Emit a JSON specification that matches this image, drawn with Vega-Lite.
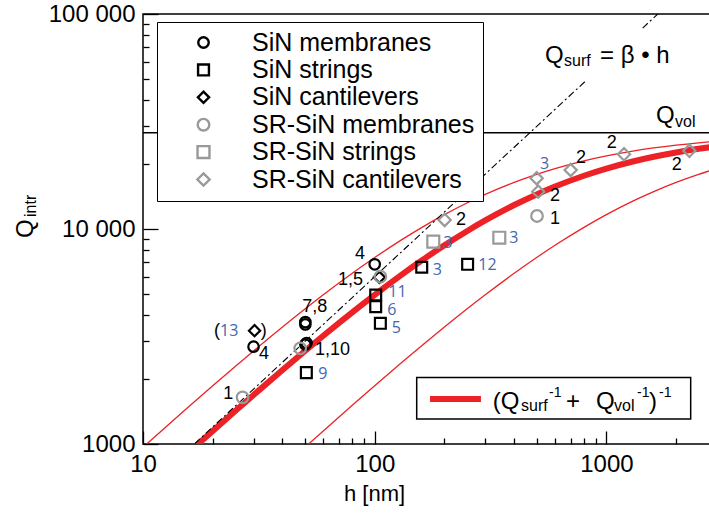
{
  "$schema": "https://vega.github.io/schema/vega-lite/v6.json",
  "width": 567,
  "height": 430,
  "autosize": {"type": "none"},
  "padding": {"left": 143, "top": 14, "right": 0, "bottom": 72},
  "background": "white",
  "config": {
    "view": {"stroke": "black", "strokeWidth": 1.5},
    "font": "Liberation Sans",
    "axis": {"grid": false, "domain": false, "tickColor": "black", "tickWidth": 1.3, "labelFont": "Liberation Sans", "labelFontSize": 24, "labelColor": "black", "titleFont": "Liberation Sans", "titleFontSize": 22, "titleFontWeight": "normal", "titleColor": "black"}
  },
  "datasets": {
    "curves": [
      {"h": 15, "Q": 872, "curve": "fit"}, {"h": 17, "Q": 984.1, "curve": "fit"}, {"h": 20, "Q": 1150.7, "curve": "fit"}, {"h": 25, "Q": 1423.7, "curve": "fit"}, {"h": 30, "Q": 1691.3, "curve": "fit"}, {"h": 40, "Q": 2210.5, "curve": "fit"}, {"h": 50, "Q": 2709.7, "curve": "fit"}, {"h": 60, "Q": 3189.9, "curve": "fit"}, {"h": 80, "Q": 4097.6, "curve": "fit"}, {"h": 100, "Q": 4941.2, "curve": "fit"}, {"h": 130, "Q": 6100.6, "curve": "fit"}, {"h": 160, "Q": 7148.9, "curve": "fit"}, {"h": 200, "Q": 8400, "curve": "fit"}, {"h": 250, "Q": 9767.4, "curve": "fit"}, {"h": 300, "Q": 10956.5, "curve": "fit"}, {"h": 400, "Q": 12923.1, "curve": "fit"}, {"h": 500, "Q": 14482.8, "curve": "fit"}, {"h": 600, "Q": 15750, "curve": "fit"}, {"h": 800, "Q": 17684.2, "curve": "fit"}, {"h": 1000, "Q": 19090.9, "curve": "fit"}, {"h": 1300, "Q": 20603.8, "curve": "fit"}, {"h": 1600, "Q": 21677.4, "curve": "fit"}, {"h": 2000, "Q": 22702.7, "curve": "fit"}, {"h": 2500, "Q": 23595.5, "curve": "fit"}, {"h": 2800, "Q": 24000, "curve": "fit"},
      {"h": 10, "Q": 965.5, "curve": "upper"}, {"h": 12, "Q": 1150.7, "curve": "upper"}, {"h": 15, "Q": 1423.7, "curve": "upper"}, {"h": 20, "Q": 1866.7, "curve": "upper"}, {"h": 25, "Q": 2295.1, "curve": "upper"}, {"h": 30, "Q": 2709.7, "curve": "upper"}, {"h": 40, "Q": 3500, "curve": "upper"}, {"h": 50, "Q": 4242.4, "curve": "upper"}, {"h": 60, "Q": 4941.2, "curve": "upper"}, {"h": 80, "Q": 6222.2, "curve": "upper"}, {"h": 100, "Q": 7368.4, "curve": "upper"}, {"h": 130, "Q": 8878, "curve": "upper"}, {"h": 160, "Q": 10181.8, "curve": "upper"}, {"h": 200, "Q": 11666.7, "curve": "upper"}, {"h": 250, "Q": 13207.5, "curve": "upper"}, {"h": 300, "Q": 14482.8, "curve": "upper"}, {"h": 400, "Q": 16470.6, "curve": "upper"}, {"h": 500, "Q": 17948.7, "curve": "upper"}, {"h": 600, "Q": 19090.9, "curve": "upper"}, {"h": 800, "Q": 20740.7, "curve": "upper"}, {"h": 1000, "Q": 21875, "curve": "upper"}, {"h": 1300, "Q": 23038, "curve": "upper"}, {"h": 1600, "Q": 23829.8, "curve": "upper"}, {"h": 2000, "Q": 24561.4, "curve": "upper"}, {"h": 2500, "Q": 25179.9, "curve": "upper"}, {"h": 2800, "Q": 25454.5, "curve": "upper"},
      {"h": 50, "Q": 965.5, "curve": "lower"}, {"h": 60, "Q": 1150.7, "curve": "lower"}, {"h": 80, "Q": 1513.5, "curve": "lower"}, {"h": 100, "Q": 1866.7, "curve": "lower"}, {"h": 130, "Q": 2379.1, "curve": "lower"}, {"h": 160, "Q": 2871.8, "curve": "lower"}, {"h": 200, "Q": 3500, "curve": "lower"}, {"h": 250, "Q": 4242.4, "curve": "lower"}, {"h": 300, "Q": 4941.2, "curve": "lower"}, {"h": 400, "Q": 6222.2, "curve": "lower"}, {"h": 500, "Q": 7368.4, "curve": "lower"}, {"h": 600, "Q": 8400, "curve": "lower"}, {"h": 800, "Q": 10181.8, "curve": "lower"}, {"h": 1000, "Q": 11666.7, "curve": "lower"}, {"h": 1300, "Q": 13481.5, "curve": "lower"}, {"h": 1600, "Q": 14933.3, "curve": "lower"}, {"h": 2000, "Q": 16470.6, "curve": "lower"}, {"h": 2500, "Q": 17948.7, "curve": "lower"}, {"h": 2800, "Q": 18666.7, "curve": "lower"}
    ],
    "surf": [{"h": 15, "Q": 900, "seg": "a"}, {"h": 822, "Q": 49320, "seg": "a"}, {"h": 1434, "Q": 86040, "seg": "b"}, {"h": 2000, "Q": 120000, "seg": "b"}],
    "qvol": [{"Q": 28000}],
    "fitbox": [{"h": 151.8, "h2": 2311, "Q": 2038, "Q2": 1307}],
    "fitsample": [{"h": 173.3, "h2": 287.5, "Q": 1619.5}],
    "points": [
      {"h": 30, "Q": 2836, "series": "SiN membranes"},
      {"h": 50.2, "Q": 3600, "series": "SiN membranes"},
      {"h": 50.2, "Q": 3690, "series": "SiN membranes"},
      {"h": 50.2, "Q": 2900, "series": "SiN membranes"},
      {"h": 50.8, "Q": 2950, "series": "SiN membranes"},
      {"h": 100, "Q": 6852, "series": "SiN membranes"},
      {"h": 50.7, "Q": 2148, "series": "SiN strings"},
      {"h": 101, "Q": 4931, "series": "SiN strings"},
      {"h": 101, "Q": 4351, "series": "SiN strings"},
      {"h": 105.8, "Q": 3642, "series": "SiN strings"},
      {"h": 159.6, "Q": 6640, "series": "SiN strings"},
      {"h": 251.8, "Q": 6852, "series": "SiN strings"},
      {"h": 30.3, "Q": 3366, "series": "SiN cantilevers"},
      {"h": 104.7, "Q": 5962, "series": "SiN cantilevers"},
      {"h": 26.9, "Q": 1648, "series": "SR-SiN membranes"},
      {"h": 47.7, "Q": 2786, "series": "SR-SiN membranes"},
      {"h": 105.8, "Q": 5997, "series": "SR-SiN membranes"},
      {"h": 501.8, "Q": 11495, "series": "SR-SiN membranes"},
      {"h": 179, "Q": 8731, "series": "SR-SiN strings"},
      {"h": 345, "Q": 9109, "series": "SR-SiN strings"},
      {"h": 200.4, "Q": 11016, "series": "SR-SiN cantilevers"},
      {"h": 500, "Q": 17220, "series": "SR-SiN cantilevers"},
      {"h": 508, "Q": 14912, "series": "SR-SiN cantilevers"},
      {"h": 701, "Q": 18811, "series": "SR-SiN cantilevers"},
      {"h": 1191, "Q": 22255, "series": "SR-SiN cantilevers"},
      {"h": 2281, "Q": 23110, "series": "SR-SiN cantilevers"}
    ],
    "notes": [
      {"h": 31.67, "Q": 2614, "t": "4"},
      {"h": 48.68, "Q": 4351, "t": "7,8"},
      {"h": 55.25, "Q": 2736, "t": "1,10"},
      {"h": 22.21, "Q": 1708, "t": "1"},
      {"h": 82.2, "Q": 7650, "t": "4"},
      {"h": 69.4, "Q": 5791, "t": "1,5"},
      {"h": 224.4, "Q": 11013, "t": "2"},
      {"h": 571, "Q": 11130, "t": "1"},
      {"h": 571, "Q": 14240, "t": "2"},
      {"h": 739.4, "Q": 21390, "t": "2"},
      {"h": 1003, "Q": 25040, "t": "2"},
      {"h": 1913, "Q": 19850, "t": "2"},
      {"h": 20.25, "Q": 3361, "t": "("},
      {"h": 32.21, "Q": 3361, "t": ")"}
    ],
    "refs": [
      {"h": 21.49, "Q": 3361, "t": "13"},
      {"h": 57.1, "Q": 2117, "t": "9"},
      {"h": 114.5, "Q": 5093, "t": "11"},
      {"h": 113.4, "Q": 4190, "t": "6"},
      {"h": 118.4, "Q": 3463, "t": "5"},
      {"h": 178, "Q": 6432, "t": "3"},
      {"h": 197.8, "Q": 8580, "t": "3"},
      {"h": 381, "Q": 9051, "t": "3"},
      {"h": 280, "Q": 6801, "t": "12"},
      {"h": 516.9, "Q": 20060, "t": "3"}
    ],
    "txtMain": [
      {"h": 543.3, "Q": 58860, "t": "Q"},
      {"h": 938.5, "Q": 58860, "t": "= β • h"},
      {"h": 1637.5, "Q": 31120, "t": "Q"},
      {"h": 323.1, "Q": 1454.6, "t": "(Q"},
      {"h": 669.3, "Q": 1454.6, "t": "+"},
      {"h": 901.9, "Q": 1454.6, "t": "Q"},
      {"h": 1527.5, "Q": 1454.6, "t": ")"}
    ],
    "txtSub": [
      {"h": 656.2, "Q": 57300, "t": "surf"},
      {"h": 1977.6, "Q": 29820, "t": "vol"},
      {"h": 427.9, "Q": 1423.8, "t": "surf"},
      {"h": 1078.5, "Q": 1423.8, "t": "vol"}
    ],
    "txtSup": [
      {"h": 565.3, "Q": 1654.3, "t": "-1"},
      {"h": 1355.8, "Q": 1654.3, "t": "-1"},
      {"h": 1686.6, "Q": 1654.3, "t": "-1"}
    ],
    "ytitleMain": [{"h": 3.352, "Q": 9081, "t": "Q"}],
    "ytitleSub": [{"h": 3.44, "Q": 11372, "t": "intr"}]
  },
  "layer": [
    {
      "data": {"name": "curves"},
      "transform": [{"filter": "datum.curve != 'fit'"}],
      "mark": {"type": "line", "color": "#ec2227", "strokeWidth": 1.3, "clip": true, "interpolate": "monotone"},
      "encoding": {
        "x": {"field": "h", "type": "quantitative", "scale": {"type": "log", "domain": [10, 2800], "nice": false},
          "axis": {"orient": "bottom", "values": [10, 20, 30, 40, 50, 60, 70, 80, 90, 100, 200, 300, 400, 500, 600, 700, 800, 900, 1000, 2000],
            "labelExpr": "(datum.value == 10 || datum.value == 100 || datum.value == 1000) ? datum.value + '' : ''",
            "tickSize": {"condition": {"test": "datum.value == 10 || datum.value == 100 || datum.value == 1000", "value": -13}, "value": -6},
            "labelPadding": 21, "labelFlush": false, "labelOverlap": false,
            "title": "h [nm]", "titleX": 231, "titleY": 56, "titleAlign": "center", "titleBaseline": "alphabetic", "titleAnchor": null}},
        "y": {"field": "Q", "type": "quantitative", "scale": {"type": "log", "domain": [1000, 100000], "nice": false},
          "axis": {"orient": "left", "values": [1000, 2000, 3000, 4000, 5000, 6000, 7000, 8000, 9000, 10000, 20000, 30000, 40000, 50000, 60000, 70000, 80000, 90000, 100000],
            "labelExpr": "datum.value == 100000 ? '100 000' : datum.value == 10000 ? '10 000' : datum.value == 1000 ? '1000' : ''",
            "tickSize": {"condition": {"test": "datum.value == 1000 || datum.value == 10000 || datum.value == 100000", "value": -15}, "value": -6},
            "labelPadding": 23, "labelFlush": false, "labelOverlap": false, "title": null}},
        "detail": {"field": "curve"}
      }
    },
    {
      "data": {"name": "curves"},
      "transform": [{"filter": "datum.curve == 'fit'"}],
      "mark": {"type": "line", "color": "#ec2227", "strokeWidth": 6, "clip": true, "interpolate": "monotone"},
      "encoding": {
        "x": {"field": "h", "type": "quantitative"},
        "y": {"field": "Q", "type": "quantitative"}
      }
    },
    {
      "data": {"name": "surf"},
      "mark": {"type": "line", "color": "black", "strokeWidth": 1.1, "strokeDash": [7, 3, 2, 3], "clip": true},
      "encoding": {
        "x": {"field": "h", "type": "quantitative"},
        "y": {"field": "Q", "type": "quantitative"},
        "detail": {"field": "seg"}
      }
    },
    {
      "data": {"name": "qvol"},
      "mark": {"type": "rule", "color": "black", "strokeWidth": 1.5},
      "encoding": {"y": {"field": "Q", "type": "quantitative"}}
    },
    {
      "data": {"name": "fitbox"},
      "mark": {"type": "rect", "fill": "white", "stroke": "black", "strokeWidth": 1.5},
      "encoding": {
        "x": {"field": "h", "type": "quantitative"},
        "x2": {"field": "h2"},
        "y": {"field": "Q", "type": "quantitative"},
        "y2": {"field": "Q2"}
      }
    },
    {
      "data": {"name": "fitsample"},
      "mark": {"type": "rule", "color": "#ec2227", "strokeWidth": 6},
      "encoding": {
        "x": {"field": "h", "type": "quantitative"},
        "x2": {"field": "h2"},
        "y": {"field": "Q", "type": "quantitative"}
      }
    },
    {
      "data": {"name": "points"},
      "mark": {"type": "point", "filled": false, "strokeWidth": 2.2, "opacity": 1},
      "encoding": {
        "x": {"field": "h", "type": "quantitative"},
        "y": {"field": "Q", "type": "quantitative"},
        "color": {"field": "series", "type": "nominal",
          "scale": {"domain": ["SiN membranes", "SiN strings", "SiN cantilevers", "SR-SiN membranes", "SR-SiN strings", "SR-SiN cantilevers"], "range": ["black", "black", "black", "#999999", "#999999", "#999999"]},
          "legend": {"orient": "none", "legendX": 14, "legendY": 8, "title": null, "fillColor": "white", "strokeColor": "black", "padding": 8, "symbolOffset": 26, "labelOffset": 36, "labelFontSize": 25, "labelFont": "Liberation Sans", "labelColor": "black", "rowPadding": 1.4, "symbolStrokeWidth": 2.4, "zindex": 2, "labelLimit": 400}},
        "shape": {"field": "series", "type": "nominal",
          "scale": {"domain": ["SiN membranes", "SiN strings", "SiN cantilevers", "SR-SiN membranes", "SR-SiN strings", "SR-SiN cantilevers"], "range": ["circle", "square", "diamond", "circle", "square", "diamond"]}},
        "size": {"field": "series", "type": "nominal",
          "scale": {"domain": ["SiN membranes", "SiN strings", "SiN cantilevers", "SR-SiN membranes", "SR-SiN strings", "SR-SiN cantilevers"], "range": [110, 150, 300, 110, 150, 300]}}
      }
    },
    {
      "data": {"name": "notes"},
      "mark": {"type": "text", "align": "left", "baseline": "middle", "font": "Liberation Sans", "fontSize": 18, "color": "black"},
      "encoding": {
        "x": {"field": "h", "type": "quantitative"},
        "y": {"field": "Q", "type": "quantitative"},
        "text": {"field": "t"}
      }
    },
    {
      "data": {"name": "refs"},
      "mark": {"type": "text", "align": "left", "baseline": "middle", "font": "Open Sans", "fontSize": 16, "color": "#4466b0"},
      "encoding": {
        "x": {"field": "h", "type": "quantitative"},
        "y": {"field": "Q", "type": "quantitative"},
        "text": {"field": "t"}
      }
    },
    {
      "data": {"name": "txtMain"},
      "mark": {"type": "text", "align": "left", "baseline": "alphabetic", "font": "Liberation Sans", "fontSize": 24, "color": "black"},
      "encoding": {
        "x": {"field": "h", "type": "quantitative"},
        "y": {"field": "Q", "type": "quantitative"},
        "text": {"field": "t"}
      }
    },
    {
      "data": {"name": "txtSub"},
      "mark": {"type": "text", "align": "left", "baseline": "alphabetic", "font": "Liberation Sans", "fontSize": 16, "color": "black"},
      "encoding": {
        "x": {"field": "h", "type": "quantitative"},
        "y": {"field": "Q", "type": "quantitative"},
        "text": {"field": "t"}
      }
    },
    {
      "data": {"name": "txtSup"},
      "mark": {"type": "text", "align": "left", "baseline": "alphabetic", "font": "Liberation Sans", "fontSize": 14, "color": "black"},
      "encoding": {
        "x": {"field": "h", "type": "quantitative"},
        "y": {"field": "Q", "type": "quantitative"},
        "text": {"field": "t"}
      }
    },
    {
      "data": {"name": "ytitleMain"},
      "mark": {"type": "text", "align": "left", "baseline": "alphabetic", "angle": 270, "font": "Liberation Sans", "fontSize": 24, "color": "black"},
      "encoding": {
        "x": {"field": "h", "type": "quantitative"},
        "y": {"field": "Q", "type": "quantitative"},
        "text": {"field": "t"}
      }
    },
    {
      "data": {"name": "ytitleSub"},
      "mark": {"type": "text", "align": "left", "baseline": "alphabetic", "angle": 270, "font": "Liberation Sans", "fontSize": 16, "color": "black"},
      "encoding": {
        "x": {"field": "h", "type": "quantitative"},
        "y": {"field": "Q", "type": "quantitative"},
        "text": {"field": "t"}
      }
    }
  ]
}
